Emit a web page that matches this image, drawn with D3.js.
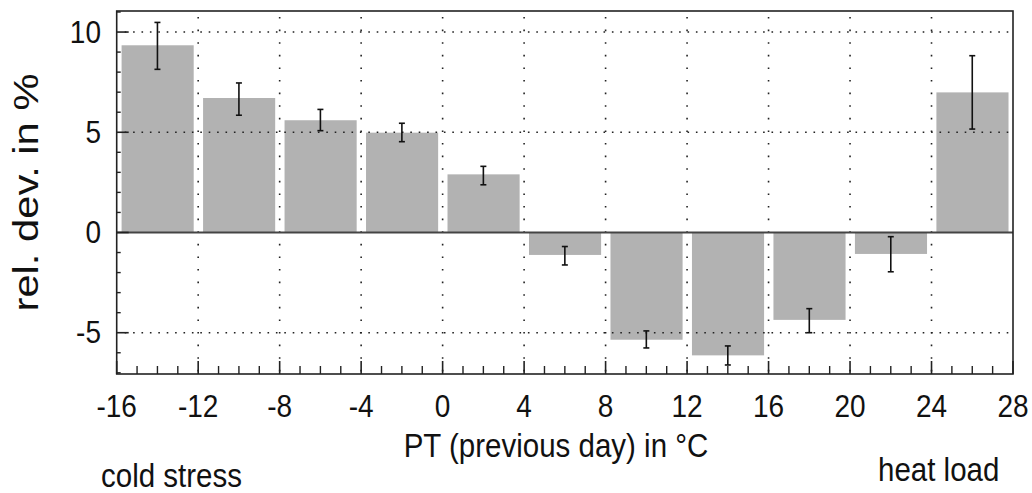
<!DOCTYPE html>
<html>
<head>
<meta charset="utf-8">
<script src="https://cdn.jsdelivr.net/npm/d3@7"></script>
<style>
  html, body { margin: 0; padding: 0; background: #fff; }
  svg { display: block; }
  text { font-family: "Liberation Sans", Arial, Helvetica, sans-serif; fill: #111; }
</style>
</head>
<body>
<svg id="chart" width="1032" height="493"></svg>
<script>
// ---- data ----
const binStarts = [-16, -12, -8, -4, 0, 4, 8, 12, 16, 20, 24];
const values    = [9.34, 6.71, 5.6, 4.98, 2.9, -1.12, -5.35, -6.13, -4.36, -1.07, 6.99];
const errLow    = [8.14, 5.85, 5.08, 4.53, 2.38, -1.62, -5.76, -6.61, -5.0, -1.96, 5.16];
const errHigh   = [10.48, 7.46, 6.14, 5.45, 3.3, -0.7, -4.91, -5.66, -3.8, -0.21, 8.82];
const xTicks    = [-16, -12, -8, -4, 0, 4, 8, 12, 16, 20, 24, 28];
const yTicks    = [-5, 0, 5, 10];
const xLabel    = "PT (previous day) in °C";
const yLabel    = "rel. dev. in %";
const leftNote  = "cold stress";
const rightNote = "heat load";

// ---- layout ----
const L = 116.7, R = 1013, T = 11, B = 374;
const svg = d3.select("#chart");
const x = d3.scaleLinear().domain([-16, 28]).range([L, R]);
const y = d3.scaleLinear().domain([-7.06, 11.05]).range([B, T]);
const SY = 1.1; // text slightly taller than wide, as in the reference

// bars
svg.append("g").selectAll("rect").data(binStarts).join("rect")
  .attr("x", d => x(d + 0.24))
  .attr("width", d => x(d + 3.78) - x(d + 0.24))
  .attr("y", (d, i) => y(Math.max(0, values[i])))
  .attr("height", (d, i) => Math.abs(y(values[i]) - y(0)))
  .attr("fill", "#b2b2b2");

// gridlines (dotted), drawn over bars
const grid = svg.append("g");
grid.selectAll("line.v").data(xTicks.slice(1, -1)).join("line")
  .attr("class", "v")
  .attr("x1", d => x(d)).attr("x2", d => x(d))
  .attr("y1", T + 6).attr("y2", B)
  .attr("stroke", "#222").attr("stroke-width", 1.6)
  .attr("stroke-dasharray", "1.6 11");
grid.selectAll("line.h").data(yTicks.filter(v => v !== 0)).join("line")
  .attr("class", "h")
  .attr("x1", L + 8).attr("x2", R)
  .attr("y1", d => y(d)).attr("y2", d => y(d))
  .attr("stroke", "#222").attr("stroke-width", 1.6)
  .attr("stroke-dasharray", "1.6 6.8");

// zero line
svg.append("line")
  .attr("x1", L).attr("x2", R).attr("y1", y(0)).attr("y2", y(0))
  .attr("stroke", "#444").attr("stroke-width", 2);

// error bars
const eb = svg.append("g").attr("stroke", "#111").attr("stroke-width", 1.6);
binStarts.forEach((d, i) => {
  const cx = x(d + 2);
  eb.append("line").attr("x1", cx).attr("x2", cx).attr("y1", y(errHigh[i])).attr("y2", y(errLow[i]));
  eb.append("line").attr("x1", cx - 3).attr("x2", cx + 3).attr("y1", y(errHigh[i])).attr("y2", y(errHigh[i]));
  eb.append("line").attr("x1", cx - 3).attr("x2", cx + 3).attr("y1", y(errLow[i])).attr("y2", y(errLow[i]));
});

// frame
svg.append("rect").attr("x", L).attr("y", T).attr("width", R - L).attr("height", B - T)
  .attr("fill", "none").attr("stroke", "#222").attr("stroke-width", 1.6);

// y axis: ticks inward + labels
const yMinor = d3.range(-7, 12).filter(v => !yTicks.includes(v));
svg.append("g").selectAll("line").data(yMinor).join("line")
  .attr("x1", L).attr("x2", L + 4).attr("y1", d => y(d)).attr("y2", d => y(d))
  .attr("stroke", "#222").attr("stroke-width", 1.4);
svg.append("g").selectAll("line").data(yTicks).join("line")
  .attr("x1", L).attr("x2", L + 12).attr("y1", d => y(d)).attr("y2", d => y(d))
  .attr("stroke", "#222").attr("stroke-width", 1.6);
svg.append("g").selectAll("text").data(yTicks).join("text")
  .attr("transform", d => `translate(101,${y(d) + 10.5}) scale(1,${SY})`)
  .attr("text-anchor", "end").attr("font-size", 28)
  .text(d => d);

// x axis: ticks inward + labels
const xMinor = d3.range(-15, 28).filter(v => !xTicks.includes(v));
svg.append("g").selectAll("line").data(xMinor).join("line")
  .attr("x1", d => x(d)).attr("x2", d => x(d)).attr("y1", B).attr("y2", B - 8)
  .attr("stroke", "#222").attr("stroke-width", 1.4);
svg.append("g").selectAll("line").data(xTicks).join("line")
  .attr("x1", d => x(d)).attr("x2", d => x(d)).attr("y1", B).attr("y2", B - 13)
  .attr("stroke", "#222").attr("stroke-width", 1.6);
svg.append("g").selectAll("text").data(xTicks).join("text")
  .attr("transform", d => `translate(${x(d)},416.5) scale(1,${SY})`)
  .attr("text-anchor", "middle").attr("font-size", 28)
  .text(d => d);

// axis titles
svg.append("text").attr("transform", `translate(556,456.5) scale(1,${SY})`)
  .attr("text-anchor", "middle").attr("font-size", 29.5).text(xLabel);
svg.append("text")
  .attr("transform", "translate(38,192.5) rotate(-90)")
  .attr("text-anchor", "middle").attr("font-size", 35)
  .attr("textLength", 238).attr("lengthAdjust", "spacingAndGlyphs")
  .text(yLabel);

// notes
svg.append("text").attr("transform", `translate(101,487) scale(1,${SY})`)
  .attr("font-size", 29.5).text(leftNote);
svg.append("text").attr("transform", `translate(878,481) scale(1,${SY})`)
  .attr("font-size", 29.5).text(rightNote);
</script>
</body>
</html>
